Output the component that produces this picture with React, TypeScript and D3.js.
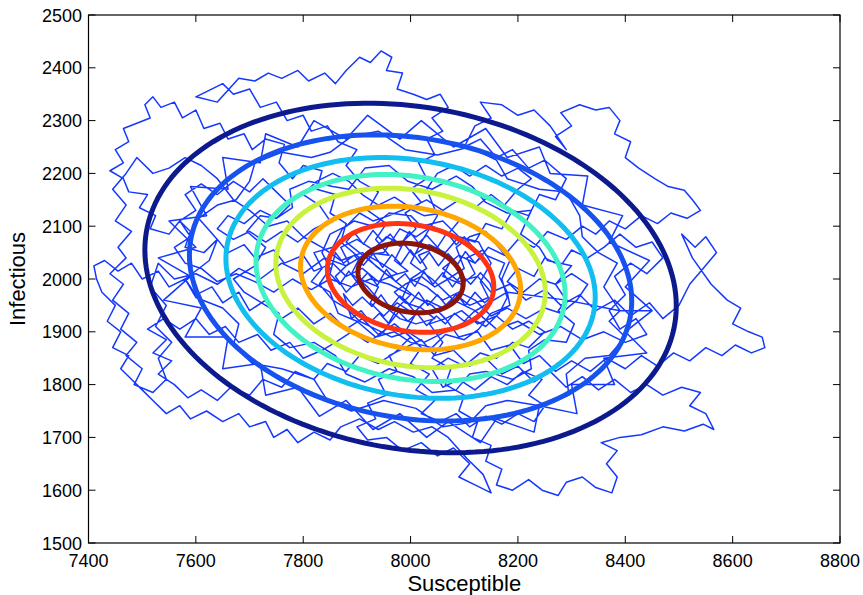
import React from 'react';
import * as d3 from 'd3';

const xTicks = [7400, 7600, 7800, 8000, 8200, 8400, 8600, 8800];
const yTicks = [1500, 1600, 1700, 1800, 1900, 2000, 2100, 2200, 2300, 2400, 2500];
const xLabel = 'Susceptible';
const yLabel = 'Infectious';

// contour ellipses (outer -> inner): half-extent in S, half-extent in I
const ellipseCenter = [8000, 2002];
const ellipseRho = -0.16;
const ellipseSx = [495, 412, 344, 288, 251, 205, 155, 98];
const ellipseSy = [331, 271, 228, 196, 170, 136, 103, 66];
const ellipseColors = ['#0c1a8e', '#1752ee', '#12bdf0', '#42f2c4', '#c8f23e', '#ffa600', '#ff3412', '#8c1508'];

// stochastic trajectory
const walkCenter = [[8000,2000],[8030,2020],[8015,2045],[8050,2060],[8075,2035],[8060,2005],[8095,1990],[8120,2010],[8105,2040],[8135,2055],[8150,2030],[8130,1995],[8145,1965],[8110,1950],[8085,1970],[8060,1945],[8030,1960],[8005,1935],[7975,1955],[7950,1930],[7925,1955],[7940,1985],[7905,2000],[7880,1975],[7860,2005],[7885,2030],[7870,2060],[7900,2075],[7930,2055],[7955,2080],[7985,2065],[7970,2035],[7995,2015],[7960,2005],[7935,2025],[7915,2045],[7950,2050],[7980,2095],[8010,2080],[8040,2100],[8070,2085],[8090,2110],[8060,2125],[8025,2120],[7995,2135],[7960,2120],[7930,2110],[7905,2125],[7880,2100],[7850,2085],[7835,2050],[7850,2020],[7830,1990],[7855,1960],[7880,1945],[7905,1920],[7935,1905],[7965,1890],[7995,1900],[8025,1880],[8055,1895],[8085,1910],[8115,1925],[8140,1910],[8165,1935],[8180,1965],[8170,2000],[8185,2035],[8160,2065],[8140,2090],[8110,2080],[8085,2060],[8100,2020],[8070,2000],[8045,1985],[8020,2005],[7990,1990],[7970,1975],[7990,1955],[8020,1945],[8045,1925],[8010,1915],[7980,1925]];
const walkTopLeft = [[7950,1950],[7920,1985],[7890,2010],[7905,2040],[7870,2070],[7880,2105],[7850,2125],[7860,2160],[7825,2170],[7835,2205],[7800,2215],[7780,2190],[7755,2220],[7765,2255],[7730,2265],[7705,2245],[7690,2275],[7660,2265],[7645,2295],[7615,2285],[7600,2320],[7575,2305],[7560,2335],[7535,2325],[7520,2345],[7505,2330],[7515,2305],[7490,2295],[7465,2285],[7475,2260],[7450,2245],[7465,2220],[7440,2205],[7465,2190],[7475,2165],[7510,2160],[7495,2135],[7525,2120],[7515,2095],[7550,2085],[7570,2110],[7590,2090],[7580,2060],[7615,2050],[7640,2075],[7660,2050],[7690,2065],[7710,2040],[7745,2055],[7765,2030],[7800,2045],[7820,2015],[7855,2030],[7880,2005],[7910,2020],[7940,1995],[7975,2010]];
const walkFarLeft = [[7945,2030],[7910,2050],[7870,2035],[7835,2060],[7800,2080],[7770,2110],[7735,2100],[7700,2130],[7670,2150],[7640,2190],[7610,2215],[7580,2230],[7550,2210],[7520,2200],[7490,2230],[7470,2200],[7445,2170],[7470,2140],[7450,2110],[7480,2090],[7455,2060],[7470,2040],[7440,2010],[7465,1990],[7445,1960],[7475,1935],[7460,1905],[7490,1880],[7470,1855],[7500,1830],[7485,1800],[7520,1785],[7545,1810],[7530,1850],[7555,1880],[7525,1910],[7545,1950],[7515,1985],[7530,2030],[7560,2000],[7600,2010],[7640,1990],[7680,2020],[7720,2000],[7760,2030],[7800,2010],[7840,2040],[7880,2025],[7920,2050]];
const walkTop = [[7960,2045],[7935,2075],[7955,2105],[7920,2130],[7940,2165],[7905,2185],[7880,2215],[7900,2245],[7865,2260],[7845,2290],[7815,2280],[7800,2310],[7770,2300],[7750,2335],[7720,2325],[7700,2360],[7670,2350],[7650,2370],[7620,2355],[7600,2345],[7640,2335],[7680,2380],[7710,2375],[7735,2390],[7760,2380],[7790,2395],[7810,2375],[7840,2390],[7860,2370],[7880,2395],[7905,2420],[7925,2410],[7945,2432],[7965,2420],[7955,2395],[7985,2390],[7975,2360],[8005,2350],[8030,2340],[8055,2350],[8070,2325],[8040,2305],[8060,2280],[8030,2265],[8045,2235],[8015,2220],[8030,2190],[8000,2170],[8020,2145],[7990,2125],[8010,2095],[7985,2070],[8005,2045]];
const walkTopRight = [[8035,2065],[8065,2050],[8090,2080],[8120,2070],[8140,2105],[8170,2095],[8190,2130],[8220,2120],[8240,2160],[8270,2150],[8290,2190],[8250,2225],[8220,2210],[8190,2245],[8160,2230],[8130,2265],[8100,2250],[8120,2290],[8150,2305],[8130,2335],[8170,2330],[8200,2310],[8230,2320],[8260,2290],[8290,2245],[8270,2270],[8300,2290],[8280,2315],[8315,2330],[8345,2320],[8370,2325],[8390,2300],[8380,2275],[8410,2260],[8400,2230],[8425,2210],[8455,2190],[8480,2175],[8510,2168],[8525,2150],[8540,2130],[8515,2115],[8485,2125],[8460,2105],[8430,2120],[8400,2095],[8370,2110],[8345,2085],[8320,2100],[8290,2075],[8255,2090],[8230,2060],[8200,2075],[8175,2045],[8145,2060],[8120,2030],[8090,2045],[8060,2020]];
const walkRight = [[8090,1995],[8125,2005],[8150,1975],[8185,1990],[8215,1960],[8250,1980],[8280,1950],[8315,1970],[8345,1940],[8380,1960],[8410,1930],[8445,1955],[8470,1925],[8500,1950],[8520,1990],[8545,2020],[8570,2050],[8550,2080],[8530,2060],[8505,2085],[8525,2040],[8560,1990],[8590,1960],[8615,1945],[8600,1915],[8630,1900],[8655,1890],[8660,1870],[8635,1860],[8605,1875],[8580,1855],[8550,1870],[8520,1845],[8490,1860],[8460,1835],[8430,1855],[8400,1830],[8365,1850],[8335,1825],[8300,1845],[8270,1825],[8240,1855],[8210,1840],[8185,1875],[8150,1865],[8125,1900],[8090,1890],[8065,1925],[8035,1915]];
const walkBottomRight = [[8060,1880],[8040,1850],[8075,1830],[8065,1800],[8100,1780],[8090,1750],[8125,1730],[8115,1700],[8150,1685],[8140,1655],[8170,1640],[8160,1610],[8190,1600],[8220,1620],[8245,1600],[8275,1590],[8290,1615],[8320,1625],[8345,1605],[8375,1595],[8385,1625],[8365,1650],[8385,1675],[8355,1690],[8390,1700],[8430,1705],[8470,1720],[8510,1712],[8545,1725],[8565,1715],[8550,1745],[8520,1760],[8540,1785],[8505,1795],[8470,1780],[8440,1800],[8410,1785],[8380,1810],[8350,1790],[8320,1815],[8290,1795],[8260,1825],[8230,1805],[8200,1835],[8170,1820],[8140,1850],[8110,1835],[8080,1865],[8045,1855],[8020,1885]];
const walkBottomLeft = [[7990,1870],[7960,1855],[7975,1825],[7940,1810],[7955,1780],[7920,1765],[7935,1735],[7900,1720],[7920,1695],[7955,1700],[7985,1675],[8020,1690],[8050,1665],[8080,1680],[8110,1650],[8090,1625],[8120,1610],[8150,1595],[8135,1630],[8105,1660],[8070,1700],[8040,1720],[8005,1710],[7970,1730],[7940,1715],[7905,1735],[7870,1720],[7850,1695],[7820,1710],[7790,1690],[7770,1715],[7745,1700],[7730,1730],[7700,1720],[7680,1745],[7650,1730],[7620,1750],[7590,1735],[7570,1760],[7545,1745],[7520,1770],[7500,1790],[7480,1810],[7460,1830],[7475,1855],[7445,1870],[7460,1900],[7435,1920],[7450,1950],[7425,1975],[7415,2000],[7410,2025],[7430,2035],[7455,2015],[7480,2030],[7500,2000],[7530,2015],[7550,1985],[7580,2000],[7600,1970],[7630,1985],[7650,1955],[7680,1975],[7700,1940],[7730,1960],[7760,1925],[7790,1945],[7820,1915],[7850,1935],[7880,1905],[7910,1925],[7940,1895],[7970,1915],[8000,1890]];
const walkLowerBand = [[7970,1860],[7940,1840],[7905,1855],[7880,1825],[7845,1840],[7820,1810],[7785,1825],[7760,1795],[7725,1810],[7700,1780],[7665,1795],[7640,1770],[7610,1790],[7585,1775],[7560,1800],[7530,1820],[7555,1845],[7520,1860],[7545,1885],[7510,1905],[7540,1925],[7570,1905],[7600,1925],[7625,1895],[7655,1910],[7680,1880],[7715,1895],[7740,1865],[7775,1880],[7800,1850],[7835,1865],[7860,1880],[7890,1900],[7920,1880],[7950,1900],[7975,1945],[8000,1970]];
const walkLeftMid = [[7960,1990],[7925,2000],[7890,1985],[7850,2000],[7815,1980],[7780,2000],[7745,1975],[7710,1995],[7675,2010],[7640,1995],[7610,2020],[7580,2030],[7560,2060],[7590,2080],[7570,2110],[7600,2130],[7580,2160],[7610,2180],[7640,2160],[7670,2185],[7700,2165],[7725,2190],[7750,2165],[7775,2140],[7750,2115],[7720,2130],[7690,2105],[7660,2120],[7640,2095],[7670,2075],[7700,2090],[7730,2070],[7760,2090],[7790,2070],[7820,2095],[7850,2110],[7830,2140],[7800,2160],[7825,2185],[7855,2200],[7885,2185],[7910,2160],[7940,2140],[7970,2155],[8000,2135],[8030,2150],[8060,2130],[8090,2150],[8120,2135],[8150,2160],[8175,2140],[8200,2170],[8225,2190],[8200,2210],[8170,2195],[8140,2215],[8110,2195],[8080,2215],[8050,2200],[8030,2170],[8050,2120],[8020,2070],[8000,2030]];
const walkRightMid = [[8040,2000],[8080,1960],[8120,1940],[8160,1905],[8200,1920],[8240,1895],[8280,1910],[8320,1885],[8360,1900],[8400,1880],[8440,1895],[8420,1925],[8390,1905],[8370,1940],[8400,1970],[8380,2005],[8410,2030],[8440,2010],[8470,2040],[8450,2070],[8420,2060],[8390,2085],[8360,2060],[8330,2040],[8300,2055],[8280,2025],[8250,2040],[8230,2005],[8200,2020],[8180,1995],[8210,1975],[8240,2000],[8270,1990],[8300,2010],[8330,1990],[8310,1960],[8280,1935],[8250,1945],[8215,1925],[8180,1945],[8150,1930],[8120,1960],[8090,1975],[8060,1960],[8030,1985],[8000,2000]];
const walkLowerMid = [[7985,1965],[8010,1935],[7990,1900],[8020,1870],[8000,1840],[8035,1820],[8010,1790],[8045,1770],[8020,1745],[8055,1730],[8085,1745],[8110,1720],[8140,1740],[8170,1725],[8200,1745],[8230,1730],[8250,1760],[8220,1780],[8245,1810],[8210,1825],[8180,1800],[8150,1815],[8120,1790],[8090,1810],[8060,1795],[8040,1830],[8070,1850],[8100,1835],[8130,1860],[8160,1850],[8190,1880],[8220,1870],[8250,1900],[8220,1920],[8190,1905],[8160,1930],[8125,1915],[8095,1940],[8065,1925],[8040,1950],[8010,1965]];
const walkCore = [[7880,2070],[7895,2088],[7912,2066],[7930,2092],[7948,2071],[7962,2085],[7980,2062],[7998,2090],[8015,2068],[8030,2083],[8050,2060],[8068,2088],[8085,2065],[8100,2080],[8118,2058],[8135,2045],[8120,2030],[8102,2052],[8088,2028],[8070,2048],[8052,2025],[8035,2050],[8018,2030],[8000,2055],[7982,2028],[7965,2046],[7948,2022],[7930,2048],[7912,2026],[7895,2045],[7875,2030],[7860,2050],[7850,2010],[7868,1990],[7885,2015],[7902,1992],[7920,2012],[7938,1988],[7955,2018],[7972,1995],[7990,2010],[8008,1986],[8025,2014],[8042,1990],[8060,2012],[8078,1985],[8095,2008],[8112,1990],[8130,2012],[8148,1992],[8155,1970],[8138,1955],[8120,1975],[8102,1950],[8085,1972],[8068,1948],[8050,1970],[8032,1950],[8015,1975],[7998,1952],[7980,1968],[7962,1945],[7945,1970],[7928,1948],[7910,1966],[7892,1950],[7875,1972],[7890,1925],[7908,1940],[7925,1918],[7942,1935],[7960,1915],[7978,1938],[7995,1920],[8012,1935],[8030,1912],[8048,1930],[8065,1915],[8082,1935],[8100,1920],[8118,1938]];
const walkRingInner = [[8180,1975],[8165,2005],[8175,2030],[8140,2045],[8127,2070],[8090,2080],[8060,2110],[8020,2100],[8000,2120],[7960,2125],[7930,2100],[7895,2110],[7873,2095],[7855,2060],[7820,2050],[7835,2020],[7815,1995],[7850,1975],[7865,1935],[7900,1920],[7935,1890],[7970,1900],[8000,1880],[8040,1870],[8065,1895],[8100,1885],[8127,1905],[8150,1935],[8185,1950],[8180,1975]];
const walkRingMid = [[8290,1960],[8270,1990],[8300,2025],[8255,2035],[8240,2060],[8205,2085],[8225,2130],[8180,2125],[8140,2145],[8115,2175],[8085,2195],[8040,2170],[7995,2185],[7960,2215],[7915,2210],[7885,2170],[7855,2175],[7810,2185],[7775,2170],[7780,2135],[7750,2115],[7720,2120],[7695,2090],[7730,2060],[7710,2025],[7670,2000],[7690,1975],[7730,1950],[7755,1935],[7745,1895],[7775,1870],[7820,1880],[7860,1855],[7880,1820],[7915,1805],[7960,1830],[8005,1815],[8040,1785],[8085,1790],[8110,1820],[8140,1825],[8190,1810],[8225,1830],[8220,1865],[8250,1885],[8290,1880],[8305,1915],[8275,1940],[8290,1960]];
const walkRingOuter = [[8390,1940],[8360,1985],[8385,2030],[8350,2050],[8320,2080],[8315,2120],[8290,2165],[8240,2170],[8180,2190],[8160,2225],[8110,2250],[8050,2235],[7990,2245],[7940,2280],[7890,2270],[7850,2240],[7815,2230],[7760,2240],[7710,2220],[7700,2185],[7675,2150],[7640,2140],[7605,2115],[7640,2075],[7625,2035],[7580,2000],[7600,1965],[7650,1945],[7680,1915],[7670,1875],[7705,1840],[7760,1830],[7820,1810],[7845,1770],[7890,1750],[7950,1770],[8010,1755],[8060,1720],[8110,1728],[8140,1760],[8180,1770],[8240,1760],[8295,1780],[8290,1820],[8325,1850],[8370,1855],[8400,1890],[8370,1920],[8390,1940]];
const walkRingWide = [[8450,1940],[8400,1985],[8445,2035],[8370,2070],[8395,2120],[8320,2140],[8330,2195],[8260,2200],[8240,2250],[8180,2230],[8140,2285],[8080,2250],[8020,2300],[7980,2265],[7920,2310],[7880,2265],[7820,2300],[7790,2250],[7730,2275],[7720,2220],[7650,2230],[7660,2170],[7590,2175],[7620,2120],[7550,2110],[7600,2060],[7530,2040],[7590,2005],[7540,1960],[7610,1945],[7580,1890],[7660,1890],[7650,1830],[7720,1840],[7730,1780],[7790,1795],[7830,1740],[7880,1770],[7930,1715],[7980,1745],[8030,1700],[8070,1730],[8130,1690],[8160,1735],[8230,1710],[8240,1760],[8310,1745],[8300,1800],[8380,1800],[8360,1850],[8440,1860],[8400,1900],[8450,1940]];

const walkSegments = [walkCenter, walkTopLeft, walkFarLeft, walkTop, walkTopRight, walkRight, walkBottomRight, walkBottomLeft, walkLowerBand, walkLeftMid, walkRightMid, walkLowerMid, walkCore, walkRingInner, walkRingMid, walkRingOuter, walkRingWide];

export default function App() {
  const W = 863, H = 595;
  const L = 88.5, R = 840, T = 15, B = 543;
  const x = d3.scaleLinear().domain([7400, 8800]).range([L, R]);
  const y = d3.scaleLinear().domain([1500, 2500]).range([B, T]);
  const font = '"Liberation Sans", Arial, Helvetica, sans-serif';

  const walk = walkSegments.flat();
  const line = d3.line<number[]>().x(d => x(d[0])).y(d => y(d[1]));

  const ellipsePath = (sx: number, sy: number) => {
    const pts: number[][] = d3.range(0, 181).map(i => {
      const t = (i / 180) * 2 * Math.PI;
      return [
        ellipseCenter[0] + sx * Math.cos(t),
        ellipseCenter[1] + sy * (ellipseRho * Math.cos(t) + Math.sqrt(1 - ellipseRho * ellipseRho) * Math.sin(t)),
      ];
    });
    return d3.line<number[]>().x(d => x(d[0])).y(d => y(d[1])).curve(d3.curveLinearClosed)(pts) || '';
  };

  const tickLen = 7;

  return (
    <svg width={W} height={H} style={{ position: 'absolute', left: 0, top: 0, background: '#fff' }}>
      <rect x={0} y={0} width={W} height={H} fill="#fff" />
      <path d={line(walk) || ''} fill="none" stroke="#1438ff" strokeWidth={1.5} strokeLinejoin="round" />
      {ellipseSx.map((sx, i) => (
        <path key={i} d={ellipsePath(sx, ellipseSy[i])} fill="none" stroke={ellipseColors[i]} strokeWidth={5} />
      ))}
      <rect x={L} y={T} width={R - L} height={B - T} fill="none" stroke="#000" strokeWidth={1.2} />
      {xTicks.map(t => (
        <g key={'x' + t}>
          <line x1={x(t)} x2={x(t)} y1={B} y2={B - tickLen} stroke="#000" strokeWidth={1} />
          <line x1={x(t)} x2={x(t)} y1={T} y2={T + tickLen} stroke="#000" strokeWidth={1} />
          <text x={x(t)} y={567} textAnchor="middle" fontFamily={font} fontSize={18} fill="#000">{t}</text>
        </g>
      ))}
      {yTicks.map(t => (
        <g key={'y' + t}>
          <line x1={L} x2={L + tickLen} y1={y(t)} y2={y(t)} stroke="#000" strokeWidth={1} />
          <line x1={R} x2={R - tickLen} y1={y(t)} y2={y(t)} stroke="#000" strokeWidth={1} />
          <text x={82} y={y(t) + 6.5} textAnchor="end" fontFamily={font} fontSize={18} fill="#000">{t}</text>
        </g>
      ))}
      <text x={(L + R) / 2} y={591} textAnchor="middle" fontFamily={font} fontSize={22} fill="#000">{xLabel}</text>
      <text transform={`translate(25,${(T + B) / 2}) rotate(-90)`} textAnchor="middle" fontFamily={font} fontSize={22} fill="#000">{yLabel}</text>
    </svg>
  );
}
